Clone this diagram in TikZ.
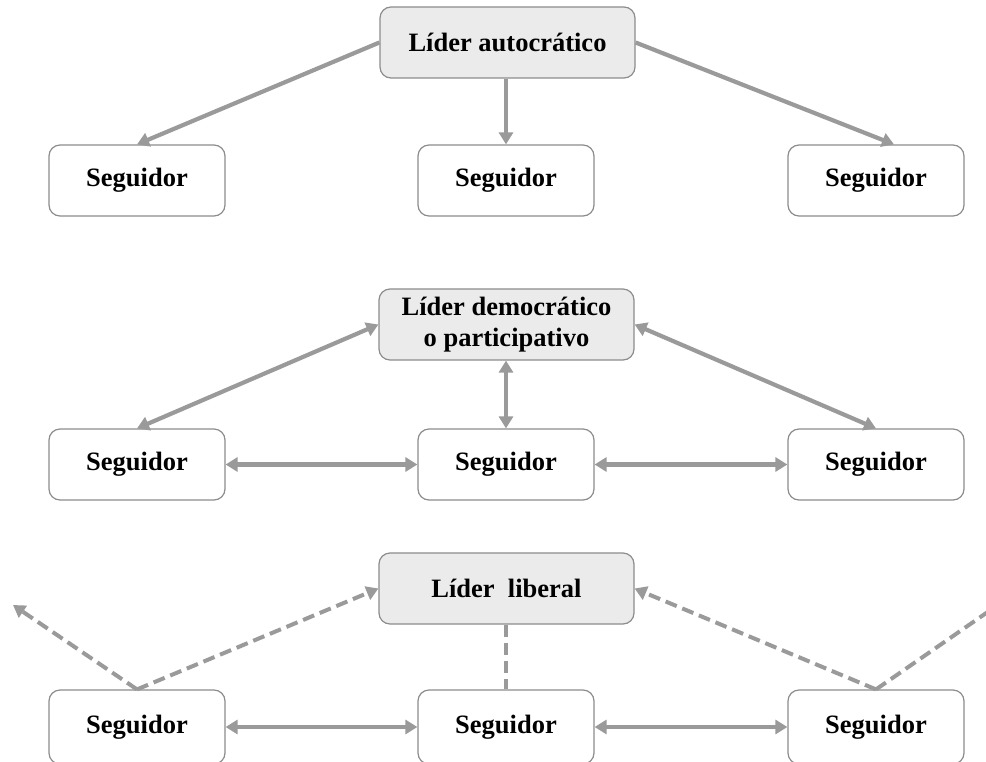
\documentclass[tikz,border=0pt]{standalone}
\usepackage{fontspec}
\setmainfont{Liberation Serif}
\usetikzlibrary{arrows.meta,calc}
\definecolor{linegray}{HTML}{9A9A9A}
\definecolor{boxline}{HTML}{8C8C8C}
\definecolor{leadfill}{HTML}{EBEBEB}
\tikzset{
  follower/.style={draw=boxline, line width=1.2pt, rounded corners=11pt, fill=white,
    minimum width=176pt, minimum height=71pt, inner sep=0pt,
    font=\fontsize{26.5}{31}\selectfont\bfseries, text=black},
  leader/.style={follower, fill=leadfill, minimum width=255pt, align=center},
  tip/.tip={Triangle[length=12pt,width=14pt]},
  conn/.style={draw=linegray, line width=4.2pt, -tip},
  dconn/.style={draw=linegray, line width=4.2pt, tip-tip},
  dashconn/.style={draw=linegray, line width=4pt, dash pattern=on 12pt off 6pt},
}
\begin{document}
\begin{tikzpicture}[x=1pt,y=-1pt]
\useasboundingbox (0,0) rectangle (986,761);
% Row 1
\node[leader] (L1) at (507.5,42.5) {Líder autocrático};
\node[follower] (A1) at (137,180.5) {Seguidor};
\node[follower] (B1) at (506,180.5) {Seguidor};
\node[follower] (C1) at (876,180.5) {Seguidor};
\draw[conn] (L1.west) -- (A1.north);
\draw[conn] (L1.south -| B1.north) -- (B1.north);
\draw[conn] (L1.east) -- ($(C1.north)+(18,0)$);
% Row 2
\node[leader] (L2) at (506.5,324.5) {Líder democrático\\o participativo};
\node[follower] (A2) at (137,464.5) {Seguidor};
\node[follower] (B2) at (506,464.5) {Seguidor};
\node[follower] (C2) at (876,464.5) {Seguidor};
\draw[dconn] (A2.north) -- (L2.west);
\draw[dconn] (L2.east) -- (C2.north);
\draw[dconn] (L2.south -| B2.north) -- (B2.north);
\draw[dconn] (A2.east) -- (B2.west);
\draw[dconn] (B2.east) -- (C2.west);
% Row 3
\node[leader] (L3) at (506.5,588.5) {Líder\ \ liberal};
\node[follower] (A3) at (137,727) [minimum height=74pt] {Seguidor};
\node[follower] (B3) at (506,727) [minimum height=74pt] {Seguidor};
\node[follower] (C3) at (876,727) [minimum height=74pt] {Seguidor};
\coordinate (outL) at (13,605);
\coordinate (outR) at (1005,600);
\draw[dashconn, -tip] (A3.north) -- (L3.west);
\draw[dashconn, -tip] (A3.north) -- (outL);
\draw[dashconn, -tip] (C3.north) -- (L3.east);
\draw[dashconn, -tip] (C3.north) -- (outR);
\draw[dashconn] (L3.south -| B3.north) -- (B3.north);
\draw[dconn] (A3.east) -- (B3.west);
\draw[dconn] (B3.east) -- (C3.west);
\end{tikzpicture}
\end{document}
